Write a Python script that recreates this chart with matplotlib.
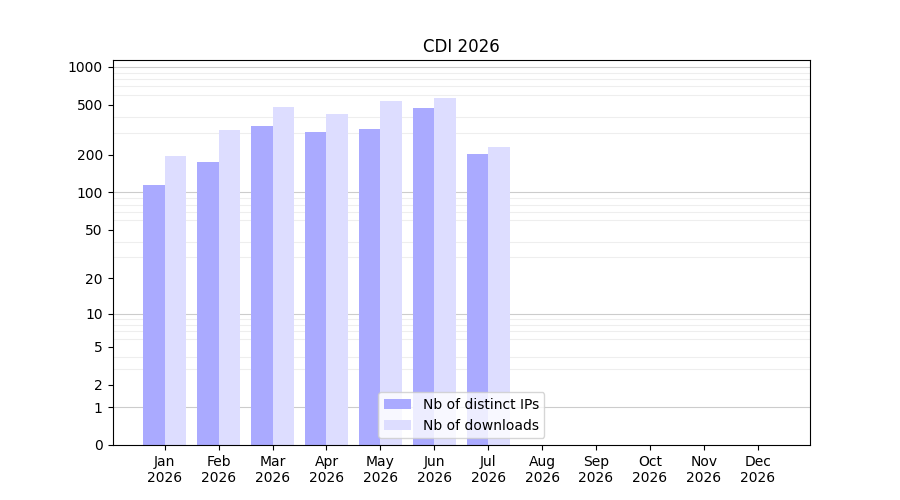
import numpy as np
import matplotlib.pyplot as plt

months = ['Jan\n2026', 'Feb\n2026', 'Mar\n2026', 'Apr\n2026', 'May\n2026', 'Jun\n2026',
          'Jul\n2026', 'Aug\n2026', 'Sep\n2026', 'Oct\n2026', 'Nov\n2026', 'Dec\n2026']
ips = [115, 175, 339, 304, 321, 472, 203, 0, 0, 0, 0, 0]
downloads = [196, 315, 481, 423, 537, 566, 231, 0, 0, 0, 0, 0]

fig, ax = plt.subplots(figsize=(9, 5), dpi=100)
ax.set_yscale('function', functions=(lambda y: np.log10(1 + np.maximum(y, 0)),
                                     lambda v: 10 ** v - 1))
x = np.arange(len(months))
ax.bar(x, ips, width=-0.4, align='edge', color='#aaaaff', label='Nb of distinct IPs')
ax.bar(x, downloads, width=0.4, align='edge', color='#ddddff', label='Nb of downloads')

major = [0, 1, 2, 5, 10, 20, 50, 100, 200, 500, 1000]
ax.set_yticks(major)
ax.set_yticklabels([str(v) for v in major])
minor = [v * 10 ** k for k in range(0, 4) for v in range(1, 10)]
ax.set_yticks(minor, minor=True)
ax.tick_params(axis='y', which='minor', length=0)
ax.grid(True, which='minor', axis='y', color='#eeeeee', linewidth=0.8)
for v in [1, 10, 100, 1000]:
    ax.axhline(v, color='#cccccc', linewidth=0.8, zorder=0.5)
ax.set_axisbelow(True)
ax.set_ylim(0, 1136)
ax.set_xlim(-0.97, 11.97)
ax.set_xticks(x)
ax.set_xticklabels(months)
ax.set_title('CDI 2026')
ax.legend(loc='lower center')
fig.savefig('out.png')
